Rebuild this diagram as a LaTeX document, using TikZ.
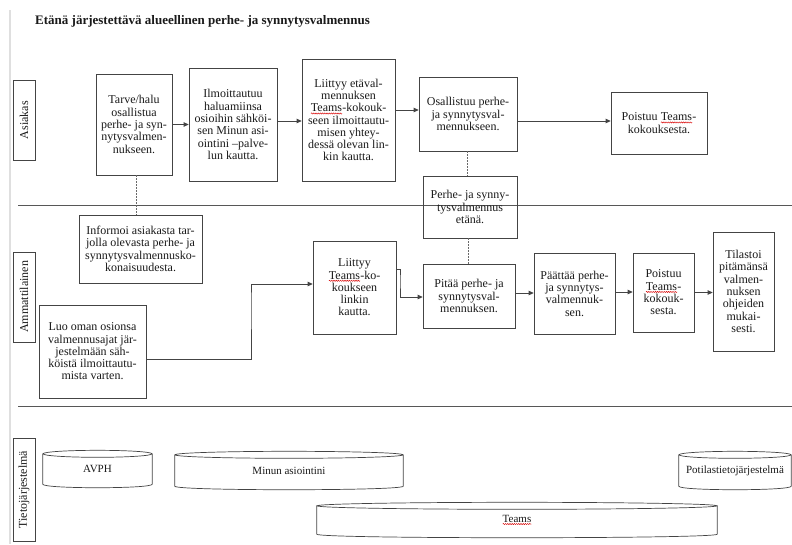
\documentclass[tikz,border=0pt]{standalone}
\usepackage{fontspec}
\setmainfont{Liberation Serif}
\usetikzlibrary{arrows.meta,decorations.pathmorphing,calc}
\definecolor{ln}{HTML}{444444}
\definecolor{tx}{HTML}{1A1A1A}
\newcommand{\spl}[1]{\tikz[baseline=(sw.base)]{\node[draw=none,fill=none,inner sep=0pt,outer sep=0pt,minimum size=0pt,rotate=0,anchor=center](sw){#1};\draw[red!85!black,line width=0.45pt,decorate,decoration={snake,amplitude=0.6pt,segment length=2.2pt}]([yshift=-1.6pt]sw.south west)--([yshift=-1.6pt]sw.south east);}}
\newcommand{\cylshape}[2]{%
  \draw[cylline] (#1.north) ellipse [x radius=#2, y radius=3.5pt];
  \draw[cylline] (#1.north west) -- (#1.south west) .. controls ([yshift=-4.7pt]#1.south west) and ([yshift=-4.7pt]#1.south east) .. (#1.south east) -- (#1.north east);}
\tikzset{
  box/.style={draw=ln, line width=0.7pt, text=tx, align=center, inner sep=2pt, font=\fontsize{12}{12.3}\selectfont},
  lane/.style={draw=ln, line width=0.7pt, text=tx, rotate=90, inner sep=0pt, minimum height=22pt, font=\fontsize{12}{14}\selectfont},
  arr/.style={draw=ln, line width=0.8pt, -{Triangle[length=5pt,width=4.5pt]}},
  dots/.style={draw=ln!80, line width=0.7pt, dash pattern=on 1.5pt off 1.5pt},
  sep/.style={draw=ln!90, line width=1pt},
  cyl/.style={inner sep=0pt, text=tx, font=\fontsize{11}{13}\selectfont},
  cylline/.style={draw=ln, line width=0.7pt},
}
\begin{document}
\begin{tikzpicture}[x=1pt,y=-1pt]
\useasboundingbox (0,0) rectangle (792,544);
\fill[white] (0,0) rectangle (792,544);
\draw[gray!25, line width=1.5pt] (10,10) -- (10,544);

% title
\node[anchor=base west, font=\bfseries\fontsize{13}{15}\selectfont, text=tx, inner sep=0pt] (title) at (35,24) {Etänä järjestettävä alueellinen perhe- ja synnytysvalmennus};

% separators
\draw[sep] (18,205) -- (792,205);
\draw[sep] (18,406) -- (792,406);

% lane labels
\node[lane, minimum width=80pt] (lasiakas) at (24,120) {Asiakas};
\node[lane, minimum width=90pt] (lamm) at (24,297) {Ammattilainen};
\node[lane, minimum width=103pt] (ltieto) at (24,489.5) {Tietojärjestelmä};

% Asiakas lane
\node[box, minimum width=76pt, minimum height=101pt] (a1) at (134,124.5) {Tarve/halu\\osallistua\\perhe- ja syn-\\nytysvalmen-\\nukseen.};
\node[box, minimum width=88pt, minimum height=113pt] (a2) at (233,124.5) {Ilmoittautuu\\haluamiinsa\\osioihin sähköi-\\sen Minun asi-\\ointini –palve-\\lun kautta.};
\node[box, minimum width=93pt, minimum height=122pt] (a3) at (348.5,120) {Liittyy etäval-\\mennuksen\\\spl{Teams}-kokouk-\\seen ilmoittautu-\\misen yhtey-\\dessä olevan lin-\\kin kautta.};
\node[box, minimum width=98pt, minimum height=74pt] (a4) at (468,114) {Osallistuu perhe-\\ja synnytysval-\\mennukseen.};
\node[box, minimum width=96pt, minimum height=62pt] (a5) at (659,123) {Poistuu \spl{Teams}-\\kokouksesta.};

% middle boxes
\node[box, minimum width=94pt, minimum height=62pt] (e) at (470,207) {Perhe- ja synny-\\tysvalmennus\\etänä.};
\node[box, minimum width=123pt, minimum height=68pt] (inf) at (140.5,249) {Informoi asiakasta tar-\\jolla olevasta perhe- ja\\synnytysvalmennusko-\\konaisuudesta.};

% Ammattilainen lane
\node[box, minimum width=107pt, minimum height=93pt] (l1) at (92.5,351.5) {Luo oman osionsa\\valmennusajat jär-\\jestelmään säh-\\köistä ilmoittautu-\\mista varten.};
\node[box, minimum width=83pt, minimum height=93pt] (l2) at (354.5,287.5) {Liittyy\\\spl{Teams}-ko-\\koukseen\\linkin\\kautta.};
\node[box, minimum width=92pt, minimum height=64pt] (p1) at (469,296) {Pitää perhe- ja\\synnytysval-\\mennuksen.};
\node[box, minimum width=81pt, minimum height=81pt] (p2) at (574.5,293.5) {Päättää perhe-\\ja synnytys-\\valmennuk-\\sen.};
\node[box, minimum width=61pt, minimum height=79pt] (p3) at (663.5,292.5) {Poistuu\\\spl{Teams}-\\kokouk-\\sesta.};
\node[box, minimum width=61pt, minimum height=119pt] (p4) at (743.5,291.5) {Tilastoi\\pitämänsä\\valmen-\\nuksen\\ohjeiden\\mukai-\\sesti.};

% connectors Asiakas
\draw[arr] (a1.east) -- (a1.east -| a2.west);
\draw[arr] ([yshift=3.5pt]a2.east) -- ([yshift=3.5pt]a2.east -| a3.west);
\draw[arr] ([yshift=10pt]a3.east) -- ([yshift=10pt]a3.east -| a4.west);
\draw[arr] ([yshift=-7pt]a4.east) -- ([yshift=-7pt]a4.east -| a5.west);

% dotted links
\draw[dots] ([xshift=2pt]a1.south) -- ([xshift=2pt]a1.south |- inf.north);
\draw[dots] ([xshift=-1pt]a4.south) -- ([xshift=-1pt]a4.south |- e.north);
\draw[dots] ([xshift=-2pt]e.south) -- ([xshift=-2pt]e.south |- p1.north);

% connectors Ammattilainen
\coordinate (k1) at (251,300);
\coordinate (k2) at (400,280);
\draw[arr] ([yshift=-7.5pt]l1.east) -| (k1) |- ([yshift=3.5pt]l2.west);
\draw[arr] ([yshift=18.5pt]l2.east) -| (k2) |- ([yshift=-1pt]p1.west);
\draw[arr] ([yshift=3pt]p1.east) -- ([yshift=3pt]p1.east -| p2.west);
\draw[arr] ([yshift=1.5pt]p2.east) -- ([yshift=1.5pt]p2.east -| p3.west);
\draw[arr] (p3.east) -- (p3.east -| p4.west);

% Tietojärjestelmä lane
\node[cyl, minimum width=109pt, minimum height=30pt] (avph) at (97.5,469) {AVPH};
\cylshape{avph}{54.5pt}
\node[cyl, minimum width=228pt, minimum height=31pt] (minun) at (289,470.5) {Minun asiointini};
\cylshape{minun}{114pt}
\node[cyl, minimum width=112pt, minimum height=31pt] (potilas) at (735,470.5) {Potilastietojärjestelmä};
\cylshape{potilas}{56pt}
\node[cyl, minimum width=400pt, minimum height=28pt] (teams) at (517,520) {\spl{Teams}};
\cylshape{teams}{200pt}
\end{tikzpicture}
\end{document}
